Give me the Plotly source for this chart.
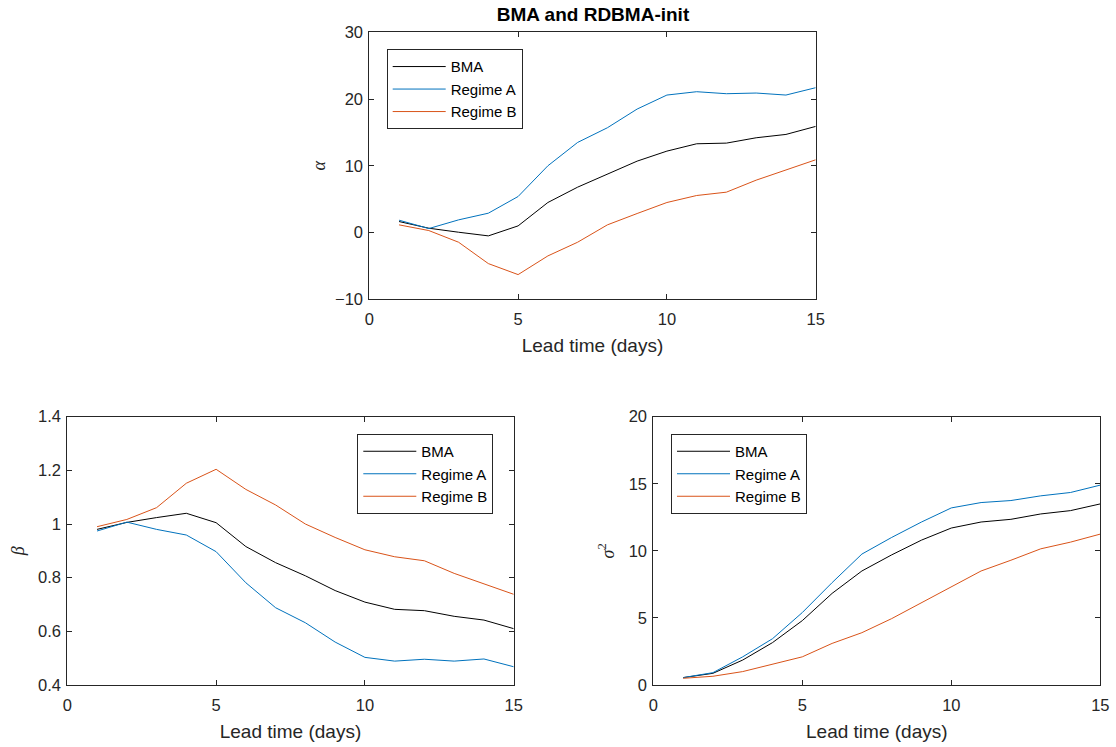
import plotly.graph_objects as go

lead = list(range(1, 16))

alpha_bma = [1.65, 0.65, 0.05, -0.5, 1.0, 4.5, 6.8, 8.7, 10.7, 12.2, 13.3, 13.4, 14.2, 14.7, 15.9]
alpha_a = [1.85, 0.6, 1.9, 2.9, 5.4, 10.0, 13.5, 15.7, 18.5, 20.6, 21.1, 20.8, 20.9, 20.6, 21.7]
alpha_b = [1.15, 0.3, -1.45, -4.65, -6.3, -3.5, -1.45, 1.15, 2.85, 4.5, 5.55, 6.05, 7.85, 9.4, 10.9]

beta_bma = [0.98, 1.006, 1.024, 1.04, 1.005, 0.916, 0.856, 0.807, 0.752, 0.709, 0.682, 0.677, 0.656, 0.642, 0.61]
beta_a = [0.974, 1.007, 0.98, 0.959, 0.897, 0.781, 0.688, 0.632, 0.56, 0.503, 0.489, 0.496, 0.489, 0.497, 0.468]
beta_b = [0.99, 1.017, 1.061, 1.152, 1.204, 1.129, 1.071, 1.0, 0.95, 0.904, 0.878, 0.863, 0.816, 0.776, 0.738]

sig_bma = [0.55, 0.87, 1.86, 3.16, 4.8, 6.83, 8.5, 9.7, 10.8, 11.7, 12.15, 12.35, 12.75, 13.0, 13.5]
sig_a = [0.55, 0.92, 2.1, 3.45, 5.4, 7.63, 9.76, 11.0, 12.15, 13.2, 13.6, 13.75, 14.1, 14.35, 14.9]
sig_b = [0.5, 0.65, 1.0, 1.57, 2.1, 3.1, 3.9, 4.95, 6.15, 7.35, 8.5, 9.3, 10.15, 10.65, 11.25]

names = ["BMA", "Regime A", "Regime B"]
colors = ["#000000", "#0072BD", "#D95319"]

W, H = 1116, 747
FONT = "Liberation Sans, Arial, Helvetica, sans-serif"
AX = "#262626"

fig = go.Figure()

panels = [
    ("x", "y", "legend", [alpha_bma, alpha_a, alpha_b]),
    ("x2", "y2", "legend2", [beta_bma, beta_a, beta_b]),
    ("x3", "y3", "legend3", [sig_bma, sig_a, sig_b]),
]
for xa, ya, lg, series in panels:
    for nm, col, vals in zip(names, colors, series):
        fig.add_trace(go.Scatter(x=lead, y=vals, mode="lines", name=nm,
                                 line=dict(color=col, width=1),
                                 xaxis=xa, yaxis=ya, legend=lg))

def px_x(a, b):
    return [a / W, b / W]

def px_y(top, bot):
    return [1 - bot / H, 1 - top / H]

def xaxis(domain, anchor):
    return dict(domain=domain, anchor=anchor, range=[0, 15], tickvals=[0, 5, 10, 15],
                showline=True, linecolor=AX, linewidth=1, mirror="allticks",
                ticks="inside", ticklen=5, tickcolor=AX, showgrid=False, zeroline=False,
                ticklabelstandoff=5, automargin=False,
                tickfont=dict(family=FONT, size=16.5, color=AX),
                title=dict(text="Lead time (days)", font=dict(family=FONT, size=19, color=AX), standoff=11))

def yaxis(domain, anchor, rng, dtick, title, standoff):
    return dict(domain=domain, anchor=anchor, range=rng, dtick=dtick, tick0=rng[0],
                showline=True, linecolor=AX, linewidth=1, mirror="allticks",
                ticks="inside", ticklen=5, tickcolor=AX, showgrid=False, zeroline=False,
                ticklabelstandoff=2, automargin=False,
                tickfont=dict(family=FONT, size=16.5, color=AX),
                title=dict(text=title, font=dict(family="Liberation Serif, serif", size=18, color=AX),
                           standoff=standoff))

leg = dict(bgcolor="white", bordercolor=AX, borderwidth=1,
           font=dict(family=FONT, size=15, color="#000000"),
           xanchor="left", yanchor="top", tracegroupgap=0, itemwidth=53)

fig.update_layout(
    width=W, height=H, margin=dict(l=0, r=0, t=0, b=0, pad=0, autoexpand=False),
    plot_bgcolor="white", paper_bgcolor="white",
    title=dict(text="<b>BMA and RDBMA-init</b>", x=593 / W, y=1 - 14.5 / H,
               xanchor="center", yanchor="middle", automargin=False,
               font=dict(family=FONT, size=19, color="#000000")),
    xaxis=xaxis(px_x(369.3, 815.7), "y"),
    yaxis=yaxis(px_y(32.3, 299.3), "x", [-10, 30], 10, "<i>α</i>", 4),
    xaxis2=xaxis(px_x(67.3, 513.7), "y2"),
    yaxis2=yaxis(px_y(416.7, 685), "x2", [0.4, 1.4], 0.2, "<i>β</i>", 8),
    xaxis3=xaxis(px_x(653.3, 1100.3), "y3"),
    yaxis3=yaxis(px_y(416.7, 685), "x3", [0, 20], 5, "<i>σ</i><sup>2</sup>", 9),
    legend=dict(leg, x=386.7 / W, y=1 - 49.3 / H),
    legend2=dict(leg, x=357.3 / W, y=1 - 434 / H),
    legend3=dict(leg, x=671 / W, y=1 - 434 / H),
)

fig.write_html("out.html")
